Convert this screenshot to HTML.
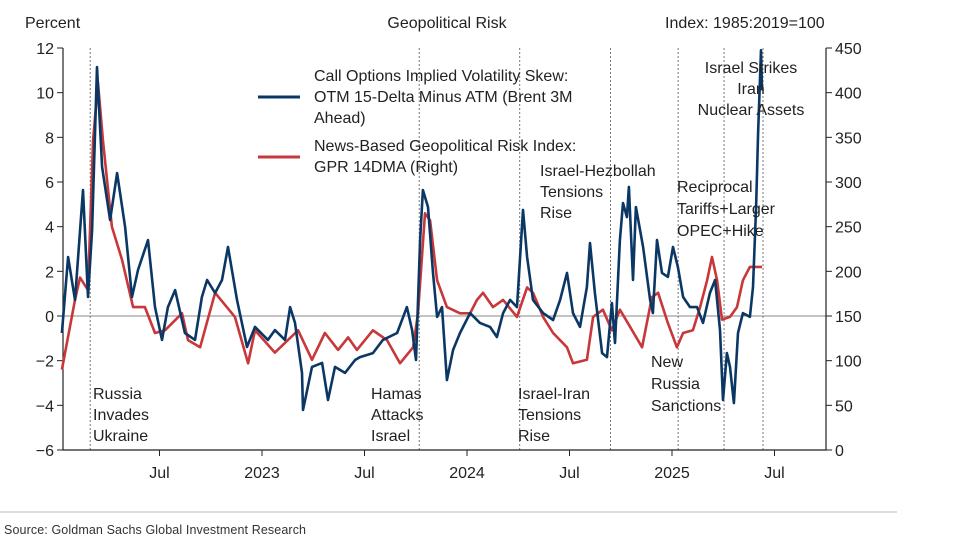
<!DOCTYPE html>
<html><head><meta charset="utf-8"><style>
body{margin:0;background:#fff;}
svg{display:block;font-family:"Liberation Sans",Arial,sans-serif;}
</style></head><body>
<svg id="c" width="975" height="551" viewBox="0 0 975 551">
<text x="25" y="28" font-size="16" fill="#222">Percent</text>
<text x="447" y="28" font-size="16" fill="#222" text-anchor="middle">Geopolitical Risk</text>
<text x="665" y="28" font-size="16" fill="#222">Index: 1985:2019=100</text>
<g id="grid"></g>
<g id="marks"></g>
<g font-size="16" fill="#222">
 <line x1="258" y1="97" x2="300" y2="97" stroke="#0b3765" stroke-width="3"/>
 <text x="314" y="81"><tspan x="314">Call Options Implied Volatility Skew:</tspan><tspan x="314" dy="21">OTM 15-Delta Minus ATM (Brent 3M</tspan><tspan x="314" dy="21">Ahead)</tspan></text>
 <line x1="258" y1="157" x2="300" y2="157" stroke="#c8373a" stroke-width="3"/>
 <text x="314" y="151"><tspan x="314">News-Based Geopolitical Risk Index:</tspan><tspan x="314" dy="21">GPR 14DMA (Right)</tspan></text>
</g>
<g font-size="16" fill="#222">
 <text><tspan x="93" y="399">Russia</tspan><tspan x="93" y="420">Invades</tspan><tspan x="93" y="441">Ukraine</tspan></text>
 <text><tspan x="371" y="399">Hamas</tspan><tspan x="371" y="420">Attacks</tspan><tspan x="371" y="441">Israel</tspan></text>
 <text><tspan x="518" y="399">Israel-Iran</tspan><tspan x="518" y="420">Tensions</tspan><tspan x="518" y="441">Rise</tspan></text>
 <text><tspan x="540" y="176">Israel-Hezbollah</tspan><tspan x="540" y="197">Tensions</tspan><tspan x="540" y="218">Rise</tspan></text>
 <text><tspan x="677" y="192">Reciprocal</tspan><tspan x="677" y="214">Tariffs+Larger</tspan><tspan x="677" y="236">OPEC+Hike</tspan></text>
 <text><tspan x="651" y="367">New</tspan><tspan x="651" y="389">Russia</tspan><tspan x="651" y="411">Sanctions</tspan></text>
 <text text-anchor="middle"><tspan x="751" y="73">Israel Strikes</tspan><tspan x="751" y="94">Iran</tspan><tspan x="751" y="115">Nuclear Assets</tspan></text>
</g>
<line x1="0" y1="512" x2="897" y2="512" stroke="#bbb" stroke-width="1"/>
<text x="4" y="534" font-size="12.5" fill="#333" textLength="302">Source: Goldman Sachs Global Investment Research</text>
</svg>
<script>
const skewDates=[2022.024,2022.054,2022.088,2022.127,2022.151,2022.171,2022.195,2022.220,2022.259,2022.293,2022.332,2022.366,2022.395,2022.444,2022.478,2022.512,2022.541,2022.576,2022.624,2022.673,2022.707,2022.732,2022.771,2022.805,2022.834,2022.878,2022.927,2022.966,2023.029,2023.063,2023.112,2023.137,2023.161,2023.195,2023.200,2023.244,2023.293,2023.322,2023.356,2023.405,2023.454,2023.478,2023.541,2023.590,2023.659,2023.707,2023.732,2023.751,2023.771,2023.785,2023.810,2023.834,2023.854,2023.878,2023.902,2023.932,2023.966,2024.015,2024.063,2024.112,2024.146,2024.176,2024.210,2024.244,2024.259,2024.273,2024.293,2024.322,2024.371,2024.420,2024.454,2024.488,2024.517,2024.551,2024.585,2024.600,2024.624,2024.659,2024.683,2024.707,2024.722,2024.746,2024.761,2024.780,2024.790,2024.810,2024.824,2024.859,2024.893,2024.907,2024.927,2024.951,2024.980,2025.005,2025.029,2025.054,2025.088,2025.122,2025.151,2025.185,2025.210,2025.234,2025.249,2025.268,2025.283,2025.302,2025.322,2025.346,2025.380,2025.395,2025.410,2025.420,2025.434,2025.439];
const skewValues=[-0.76,2.64,0.72,5.64,0.85,3.85,11.15,6.67,4.30,6.40,3.99,0.85,2.06,3.40,0.40,-1.07,0.40,1.16,-0.76,-1.07,0.85,1.61,1.03,1.61,3.09,0.72,-1.39,-0.49,-1.07,-0.63,-1.07,0.40,-0.31,-2.55,-4.21,-2.28,-2.10,-3.76,-2.28,-2.55,-1.97,-1.84,-1.66,-1.07,-0.76,0.40,-0.63,-1.97,3.40,5.64,4.88,1.93,-0.04,0.40,-2.87,-1.52,-0.76,0.13,-0.31,-0.49,-0.94,0.13,0.72,0.40,2.64,4.75,2.64,0.72,0.13,-0.18,0.72,1.93,0.13,-0.49,1.30,3.27,1.03,-1.66,-1.84,0.58,-1.21,3.40,5.06,4.43,5.78,1.61,4.88,3.09,0.72,0.13,3.40,1.93,1.75,3.09,2.19,0.85,0.40,0.40,-0.31,1.03,1.61,-0.63,-3.76,-1.66,-2.28,-3.90,-0.76,0.13,-0.04,1.30,4.88,8.20,11.9,10.1];
const gprDates=[2022.024,2022.088,2022.112,2022.151,2022.176,2022.200,2022.224,2022.268,2022.317,2022.371,2022.429,2022.478,2022.527,2022.610,2022.639,2022.698,2022.771,2022.868,2022.932,2022.966,2023.063,2023.176,2023.244,2023.307,2023.371,2023.420,2023.463,2023.541,2023.610,2023.673,2023.737,2023.761,2023.795,2023.820,2023.854,2023.902,2023.966,2024.015,2024.049,2024.078,2024.127,2024.176,2024.244,2024.293,2024.322,2024.371,2024.420,2024.488,2024.517,2024.585,2024.615,2024.663,2024.707,2024.746,2024.795,2024.854,2024.902,2024.932,2024.980,2025.024,2025.054,2025.102,2025.137,2025.171,2025.195,2025.220,2025.244,2025.283,2025.317,2025.346,2025.380,2025.415,2025.439];
const gprValues=[90,168,193,179,347,411,347,250,213,160,160,131,134,153,123,115,176,149,97,134,109,134,101,131,112,126,112,134,123,97,115,153,265,257,190,160,153,153,168,176,160,168,149,182,176,149,131,115,97,101,149,157,134,157,138,115,171,176,142,115,131,134,160,190,216,190,146,149,160,190,205,205,205];
const leftTicks=[-6,-4,-2,0,2,4,6,8,10,12];
const rightTicks=[0,50,100,150,200,250,300,350,400,450];
const xTickDates=[2022.5,2023,2023.5,2024,2024.5,2025,2025.5];
const xTickLabels=["Jul","2023","Jul","2024","Jul","2025","Jul"];
const eventDates=[2022.162,2023.767,2024.257,2024.700,2025.030,2025.254,2025.444];

const NS="http://www.w3.org/2000/svg";
const X0=63,X1=826,YT=48,YB=450;
const xS=d=>57+(d-2022)*205;
const yL=v=>YB-(v+6)/18*(YB-YT);
const yR=v=>YB-v/450*(YB-YT);
function mk(tag,attrs,parent){const e=document.createElementNS(NS,tag);for(const k in attrs)e.setAttribute(k,attrs[k]);parent.appendChild(e);return e;}
const g=document.getElementById('grid'), m=document.getElementById('marks');

let zl=mk('line',{x1:X0,x2:X1,y1:yL(0),y2:yL(0),stroke:'#888','stroke-width':1},g);


eventDates.forEach(d=>{
 const l=mk('line',{x1:xS(d),x2:xS(d),y1:YT,y2:YB,stroke:'#777','stroke-width':1,'stroke-dasharray':'2,2'},g);
 
 
});
let ax=mk('path',{d:`M${X0},${YT}V${YB}H${X1}V${YT}`,fill:'none',stroke:'#222','stroke-width':1.2},g);


leftTicks.forEach(v=>{
 const y=yL(v);
 mk('line',{x1:X0-6,x2:X0,y1:y,y2:y,stroke:'#222'},g);
 const t=mk('text',{x:X0-9,y:y+6,'text-anchor':'end','font-size':16,fill:'#222'},g);
 t.textContent=v<0?'\u2212'+(-v):String(v);
 
 
});
rightTicks.forEach(v=>{
 const y=yR(v);
 mk('line',{x1:X1,x2:X1+6,y1:y,y2:y,stroke:'#222'},g);
 const t=mk('text',{x:X1+9,y:y+6,'font-size':16,fill:'#222'},g);
 t.textContent=String(v);
 
 
});
xTickDates.forEach((d,i)=>{
 const x=xS(d);
 mk('line',{x1:x,x2:x,y1:YB,y2:YB+6,stroke:'#222'},g);
 const t=mk('text',{x:x,y:YB+28,'text-anchor':'middle','font-size':16,fill:'#222'},g);
 t.textContent=xTickLabels[i];
 
 
});
const gp=mk('path',{d:gprDates.map((d,i)=>(i?'L':'M')+xS(d).toFixed(1)+','+yR(gprValues[i]).toFixed(1)).join(''),fill:'none',stroke:'#c8373a','stroke-width':2.6,'stroke-linejoin':'round'},m);


const sp=mk('path',{d:skewDates.map((d,i)=>(i?'L':'M')+xS(d).toFixed(1)+','+yL(skewValues[i]).toFixed(1)).join(''),fill:'none',stroke:'#0b3765','stroke-width':2.6,'stroke-linejoin':'round'},m);


</script>
</body></html>
